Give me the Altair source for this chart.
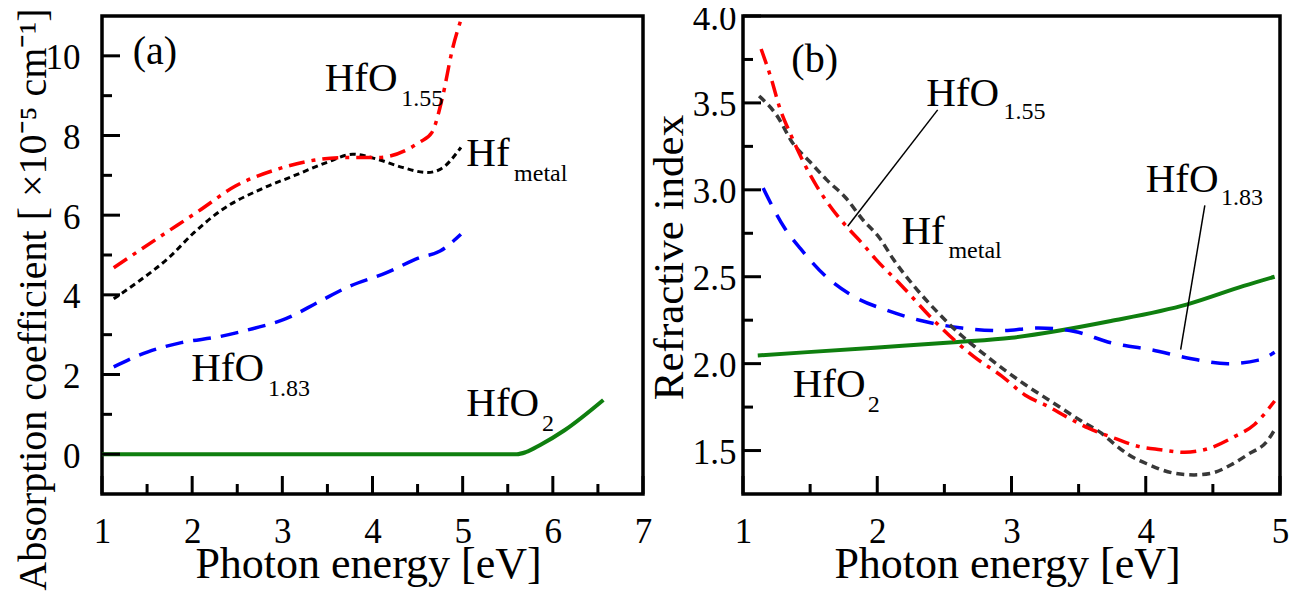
import altair as alt
import pandas as pd

FONT = "Liberation Serif"

# ---------------- Panel (a): absorption coefficient ----------------
a_x_hfo155 = [1.13, 1.65, 2.07, 2.48, 2.94, 3.41, 3.73, 4.06, 4.52, 4.66, 4.77, 4.89, 4.98]
a_y_hfo155 = [4.68, 5.47, 6.10, 6.73, 7.15, 7.40, 7.45, 7.45, 7.83, 8.08, 8.90, 10.2, 10.9]
a_x_hf = [1.13, 1.42, 1.74, 2.02, 2.34, 2.76, 3.13, 3.50, 3.78, 4.06, 4.33, 4.61, 4.75, 4.98]
a_y_hf = [3.90, 4.36, 4.93, 5.56, 6.15, 6.65, 6.99, 7.33, 7.53, 7.40, 7.20, 7.07, 7.15, 7.70]
a_x_hfo183 = [1.13, 1.51, 1.88, 2.30, 2.67, 3.04, 3.41, 3.73, 4.15, 4.52, 4.75, 4.98]
a_y_hfo183 = [2.19, 2.57, 2.80, 2.95, 3.15, 3.40, 3.83, 4.20, 4.55, 4.93, 5.10, 5.52]
a_x_hfo2 = [1.0, 2.0, 3.0, 4.0, 5.0, 5.6, 5.7, 5.86, 6.13, 6.56]
a_y_hfo2 = [0, 0, 0, 0, 0, 0.0, 0.05, 0.23, 0.60, 1.36]

a_xticks_major = [1, 2, 3, 4, 5, 6, 7]
a_xticks_minor = [1.5, 2.5, 3.5, 4.5, 5.5, 6.5]
a_yticks_major = [0, 2, 4, 6, 8, 10]
a_yticks_minor = [1, 3, 5, 7, 9]

a_ann_text = ["(a)", "HfO", "1.55", "Hf", "metal", "HfO", "1.83", "HfO", "2"]
a_ann_x = [1.34, 3.47, 4.32, 5.04, 5.57, 1.99, 2.84, 5.04, 5.88]
a_ann_y = [9.80, 9.12, 8.74, 7.24, 6.86, 1.83, 1.46, 0.95, 0.58]
a_ann_size = [40, 41, 24, 41, 24, 41, 24, 41, 24]

# ---------------- Panel (b): refractive index ----------------
b_x_hfo155 = [1.135, 1.21, 1.27, 1.36, 1.45, 1.55, 1.645, 1.77, 1.89, 1.99, 2.18, 2.42, 2.72, 2.925,
              3.10, 3.27, 3.42, 3.57, 3.77, 3.94, 4.11, 4.29, 4.46, 4.66, 4.81, 4.96]
b_y_hfo155 = [3.81, 3.64, 3.48, 3.31, 3.16, 3.02, 2.91, 2.79, 2.69, 2.60, 2.45, 2.25, 2.04, 1.93,
              1.82, 1.755, 1.69, 1.63, 1.57, 1.525, 1.505, 1.49, 1.51, 1.58, 1.65, 1.785]
b_x_hf = [1.12, 1.25, 1.37, 1.50, 1.62, 1.77, 1.89, 2.02, 2.12, 2.27, 2.45, 2.63, 2.82, 2.96, 3.10,
          3.30, 3.52, 3.67, 3.77, 3.87, 4.02, 4.21, 4.36, 4.49, 4.64, 4.76, 4.91, 4.96]
b_y_hf = [3.54, 3.43, 3.27, 3.16, 3.06, 2.95, 2.83, 2.72, 2.60, 2.45, 2.295, 2.16, 2.04, 1.957, 1.88,
          1.78, 1.67, 1.60, 1.535, 1.477, 1.42, 1.37, 1.36, 1.37, 1.42, 1.477, 1.56, 1.62]
b_x_hfo183 = [1.15, 1.31, 1.43, 1.62, 1.84, 2.08, 2.34, 2.63, 2.92, 3.20, 3.47, 3.74, 4.04, 4.33, 4.61, 4.84, 4.96]
b_y_hfo183 = [3.01, 2.78, 2.66, 2.50, 2.38, 2.305, 2.245, 2.205, 2.19, 2.205, 2.185, 2.12, 2.08, 2.03, 2.00, 2.02, 2.065]
b_x_hfo2 = [1.11, 1.98, 2.60, 3.00, 3.74, 4.31, 4.73, 4.96]
b_y_hfo2 = [2.047, 2.092, 2.124, 2.149, 2.245, 2.341, 2.447, 2.50]

b_xticks_major = [1, 2, 3, 4, 5]
b_xticks_minor = [1.5, 2.5, 3.5, 4.5]
b_yticks_major = [1.5, 2.0, 2.5, 3.0, 3.5, 4.0]
b_yticks_minor = [1.75, 2.25, 2.75, 3.25, 3.75]

b_ann_text = ["(b)", "HfO", "1.55", "Hf", "metal", "HfO", "1.83", "HfO", "2"]
b_ann_x = [1.36, 2.365, 2.94, 2.18, 2.53, 4.00, 4.56, 1.37, 1.93]
b_ann_y = [3.68, 3.48, 3.41, 2.69, 2.61, 2.99, 2.91, 1.81, 1.72]
b_ann_size = [40, 41, 24, 41, 24, 41, 24, 41, 24]

b_lead_x = [2.45, 4.44]
b_lead_y = [3.46, 2.91]
b_lead_x2 = [1.78, 4.26]
b_lead_y2 = [2.79, 2.08]

W_A, W_B, H = 541, 537, 478
MAJ, MIN = 18, 10


def series_df(xs, ys, name):
    return pd.DataFrame({"x": xs, "y": ys, "series": name})


def panel(curves, xdom, ydom, xmaj, xmin, ymaj, ymin, ann, width, yfmt,
          ytitle, ytitle_size, ytitle_x, ytitle_y, ylabpad, xtitle_x, leaders=None):
    xs = alt.Scale(domain=xdom, nice=False, zero=False)
    ys = alt.Scale(domain=ydom, nice=False, zero=False)
    xaxis = alt.Axis(values=xmaj, format="d", ticks=False, tickSize=0, domain=False, grid=False,
                     labelFont=FONT, labelFontSize=35, labelColor="black", labelPadding=20,
                     labelFlush=False,
                     title="Photon energy [eV]", titleFont=FONT, titleFontSize=44,
                     titleFontWeight="normal", titleColor="black", titleBaseline="alphabetic",
                     titleX=xtitle_x, titleY=83, titleAlign="center")
    yaxis = alt.Axis(values=ymaj, format=yfmt, ticks=False, tickSize=0, domain=False, grid=False,
                     labelFont=FONT, labelFontSize=35, labelColor="black", labelPadding=ylabpad,
                     labelFlush=False, labelOffset=2,
                     title=ytitle, titleFont=FONT, titleFontSize=ytitle_size, titleFontWeight="normal",
                     titleColor="black", titleBaseline="alphabetic", titleAngle=270,
                     titleX=ytitle_x, titleY=ytitle_y, titleAlign="center")

    def X(field):
        return alt.X(field, scale=xs, axis=xaxis)

    def Y(field):
        return alt.Y(field, scale=ys, axis=yaxis)

    layers = []
    for df, color, dash, sw in curves:
        mk = dict(color=color, strokeWidth=sw, interpolate="monotone")
        if dash:
            mk["strokeDash"] = dash
        layers.append(alt.Chart(df).mark_line(**mk).encode(x=X("x:Q"), y=Y("y:Q")))

    tx_maj = pd.DataFrame({"x": xmaj})
    tx_min = pd.DataFrame({"x": xmin})
    ty_maj = pd.DataFrame({"y": ymaj})
    ty_min = pd.DataFrame({"y": ymin})
    for d, ln in [(tx_maj, MAJ), (tx_min, MIN)]:
        layers.append(alt.Chart(d).mark_rule(color="black", strokeWidth=3).encode(
            x=X("x:Q"), y=alt.value(H), y2=alt.value(H - ln)))
    for d, ln in [(ty_maj, MAJ), (ty_min, MIN)]:
        layers.append(alt.Chart(d).mark_rule(color="black", strokeWidth=3).encode(
            y=Y("y:Q"), x=alt.value(0), x2=alt.value(ln)))

    if leaders is not None:
        layers.append(alt.Chart(leaders).mark_rule(color="black", strokeWidth=1.5).encode(
            x=X("x:Q"), y=Y("y:Q"), x2="x2:Q", y2="y2:Q"))

    layers.append(alt.Chart(ann).mark_text(align="left", baseline="alphabetic", font=FONT,
                                           color="black").encode(
        x=X("x:Q"), y=Y("y:Q"),
        text="text:N", size=alt.Size("size:Q", scale=None)))
    return alt.layer(*layers).properties(width=width, height=H)


curves_a = [
    (series_df(a_x_hfo2, a_y_hfo2, "HfO2"), "#0f7f0f", None, 4),
    (series_df(a_x_hfo183, a_y_hfo183, "HfO1.83"), "#0000ff", [18, 10], 3.5),
    (series_df(a_x_hf, a_y_hf, "Hf"), "#000000", [6, 4], 3),
    (series_df(a_x_hfo155, a_y_hfo155, "HfO1.55"), "#ff0000", [16, 7, 4, 7], 3.5),
]
curves_b = [
    (series_df(b_x_hfo2, b_y_hfo2, "HfO2"), "#0f7f0f", None, 4),
    (series_df(b_x_hfo183, b_y_hfo183, "HfO1.83"), "#0000ff", [18, 12], 3.5),
    (series_df(b_x_hf, b_y_hf, "Hf"), "#383838", [8, 5], 3.5),
    (series_df(b_x_hfo155, b_y_hfo155, "HfO1.55"), "#ff0000", [16, 7, 4, 7], 3.5),
]

ann_a = pd.DataFrame({"text": a_ann_text, "x": a_ann_x, "y": a_ann_y, "size": a_ann_size})
ann_b = pd.DataFrame({"text": b_ann_text, "x": b_ann_x, "y": b_ann_y, "size": b_ann_size})
lead_b = pd.DataFrame({"x": b_lead_x, "y": b_lead_y, "x2": b_lead_x2, "y2": b_lead_y2})

pa = panel(curves_a, [1, 7], [-1, 11], a_xticks_major, a_xticks_minor, a_yticks_major,
           a_yticks_minor, ann_a, W_A, "d", "Absorption coefficient [ ×10⁻⁵ cm⁻¹]", 40,
           -57, 283, 22, 266)
pb = panel(curves_b, [1, 5], [1.25, 4.0], b_xticks_major, b_xticks_minor, b_yticks_major,
           b_yticks_minor, ann_b, W_B, ".1f", "Refractive index", 43, -61, 241, 7, 264,
           leaders=lead_b)

chart = alt.hconcat(pa, pb, spacing=100, bounds="flush").properties(
    padding={"left": 3, "top": -9, "right": 0, "bottom": 0}, background="white"
).configure_view(stroke="black", strokeWidth=3.5)

chart.save("out.html", embed_options={"renderer": "svg", "actions": False})
